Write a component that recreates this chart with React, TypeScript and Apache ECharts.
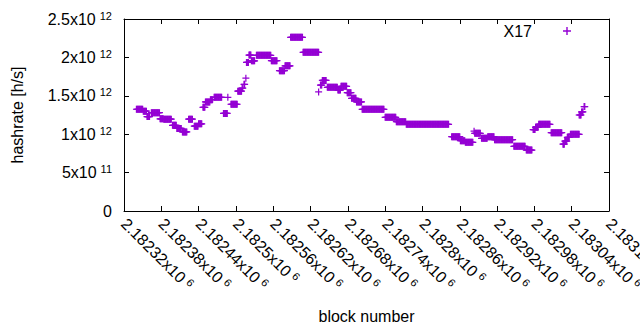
import React, { useEffect, useRef } from "react";
import * as echarts from "echarts";

// Runs of consecutive blocks that share the same hashrate estimate (value in 1e12 h/s)
const runStartBlock = [
  2182340, 2182351, 2182357, 2182364, 2182378, 2182384, 2182398, 2182405, 2182414, 2182424,
  2182433, 2182440, 2182447, 2182451, 2182459, 2182465, 2182480, 2182487, 2182492, 2182503,
  2182510, 2182513, 2182516, 2182517, 2182521, 2182525, 2182533, 2182557, 2182570, 2182579,
  2182588, 2182608, 2182633, 2182636, 2182639, 2182647, 2182664, 2182669, 2182679, 2182686,
  2182694, 2182703, 2182740, 2182758, 2182774, 2182847, 2182861, 2182869, 2182883, 2182884,
  2182895, 2182905, 2182916, 2182947, 2182967, 2182978, 2182982, 2182987, 2183007, 2183026,
  2183029, 2183033, 2183038, 2183052, 2183056, 2183060,
];
const runEndBlock = [
  2182350, 2182356, 2182361, 2182377, 2182383, 2182396, 2182404, 2182412, 2182421, 2182430,
  2182439, 2182445, 2182450, 2182458, 2182462, 2182477, 2182486, 2182487, 2182502, 2182509,
  2182511, 2182514, 2182516, 2182520, 2182524, 2182530, 2182556, 2182566, 2182578, 2182587,
  2182607, 2182633, 2182633, 2182638, 2182645, 2182663, 2182668, 2182678, 2182685, 2182693,
  2182702, 2182738, 2182757, 2182773, 2182842, 2182860, 2182868, 2182881, 2182883, 2182893,
  2182904, 2182915, 2182945, 2182965, 2182976, 2182981, 2182986, 2183005, 2183024, 2183028,
  2183032, 2183036, 2183052, 2183055, 2183058, 2183061,
];
const runHashrateT = [
  1.325, 1.3, 1.23, 1.28, 1.2, 1.195, 1.115, 1.075, 1.03, 1.195,
  1.105, 1.135, 1.35, 1.42, 1.45, 1.48, 1.27, 1.48, 1.39, 1.56,
  1.6, 1.65, 1.73, 1.935, 2.03, 1.955, 2.027, 1.957, 1.827, 1.89,
  2.262, 2.066, 1.55, 1.64, 1.7, 1.61, 1.575, 1.623, 1.54, 1.467,
  1.42, 1.324, 1.22, 1.163, 1.129, 0.968, 0.915, 0.894, 1.04, 1.011,
  0.946, 0.968, 0.929, 0.842, 0.794, 1.06, 1.09, 1.129, 1.02, 0.87,
  0.91, 0.96, 0.998, 1.25, 1.29, 1.36,
];

const seriesName = "X17";
const xMin = 2182320;
const xMax = 2183100;
const xStep = 60;
const yMax = 2.5e12;
const yStep = 5e11;

const FONT = "Liberation Sans, Arial, sans-serif";
const PLUS = "path://M0,3.3H8V4.7H0ZM3.3,0H4.7V8H3.3Z";

function sciLabel(v: number): string {
  if (v === 0) return "{m|0}";
  const e = Math.floor(Math.log10(Math.abs(v)) + 1e-9);
  const m = parseFloat((v / Math.pow(10, e)).toPrecision(8));
  return `{m|${m}x10}{e|${e}}`;
}

const rich = {
  m: { fontSize: 16, fontFamily: FONT, color: "#000", lineHeight: 18 },
  e: { fontSize: 11, fontFamily: FONT, color: "#000", verticalAlign: "top" as const, padding: [0, 0, 0, 4], lineHeight: 12 },
};

export default function App() {
  const ref = useRef<HTMLDivElement>(null);
  useEffect(() => {
    if (!ref.current) return;
    const chart = echarts.init(ref.current, undefined, { renderer: "svg" });
    const points: number[][] = [];
    for (let i = 0; i < runStartBlock.length; i++) {
      for (let b = runStartBlock[i]; b <= runEndBlock[i]; b++) {
        points.push([b, runHashrateT[i] * 1e12]);
      }
    }
    const axisCommon = {
      axisLine: { show: true, onZero: false, lineStyle: { color: "#000", width: 1 } },
      axisTick: { show: true, inside: true, length: 5, lineStyle: { color: "#000" } },
      splitLine: { show: false },
    };
    chart.setOption({
      animation: false,
      backgroundColor: "#fff",
      grid: { left: 124, right: 31, top: 19, bottom: 119, containLabel: false, outerBoundsMode: "none" },
      legend: {
        data: [seriesName],
        right: 69,
        top: 23,
        align: "right",
        itemWidth: 60,
        itemHeight: 8,
        padding: 0,
        textStyle: { fontSize: 16, fontFamily: FONT, color: "#000" },
      },
      xAxis: [
        {
          type: "value",
          min: xMin,
          max: xMax,
          interval: xStep,
          ...axisCommon,
          axisLabel: { rotate: -45, margin: 10, formatter: sciLabel, rich },
          name: "block number",
          nameLocation: "middle",
          nameGap: 97,
          nameTextStyle: { fontSize: 16, fontFamily: FONT, color: "#000" },
        },
        {
          type: "value",
          position: "top",
          min: xMin,
          max: xMax,
          interval: xStep,
          ...axisCommon,
          axisLabel: { show: false },
        },
      ],
      yAxis: [
        {
          type: "value",
          min: 0,
          max: yMax,
          interval: yStep,
          ...axisCommon,
          axisLabel: { margin: 12, formatter: sciLabel, rich },
          name: "hashrate [h/s]",
          nameLocation: "middle",
          nameGap: 99,
          nameTextStyle: { fontSize: 16, fontFamily: FONT, color: "#000" },
        },
        {
          type: "value",
          position: "right",
          min: 0,
          max: yMax,
          interval: yStep,
          ...axisCommon,
          axisLabel: { show: false },
        },
      ],
      series: [
        {
          name: seriesName,
          type: "scatter",
          xAxisIndex: 0,
          yAxisIndex: 0,
          symbol: PLUS,
          symbolSize: 7,
          symbolKeepAspect: true,
          itemStyle: { color: "#9400d3", opacity: 1 },
          data: points,
        },
      ],
    });
    return () => chart.dispose();
  }, []);
  return <div ref={ref} style={{ width: 640, height: 330, position: "absolute", left: 0, top: 0 }} />;
}
